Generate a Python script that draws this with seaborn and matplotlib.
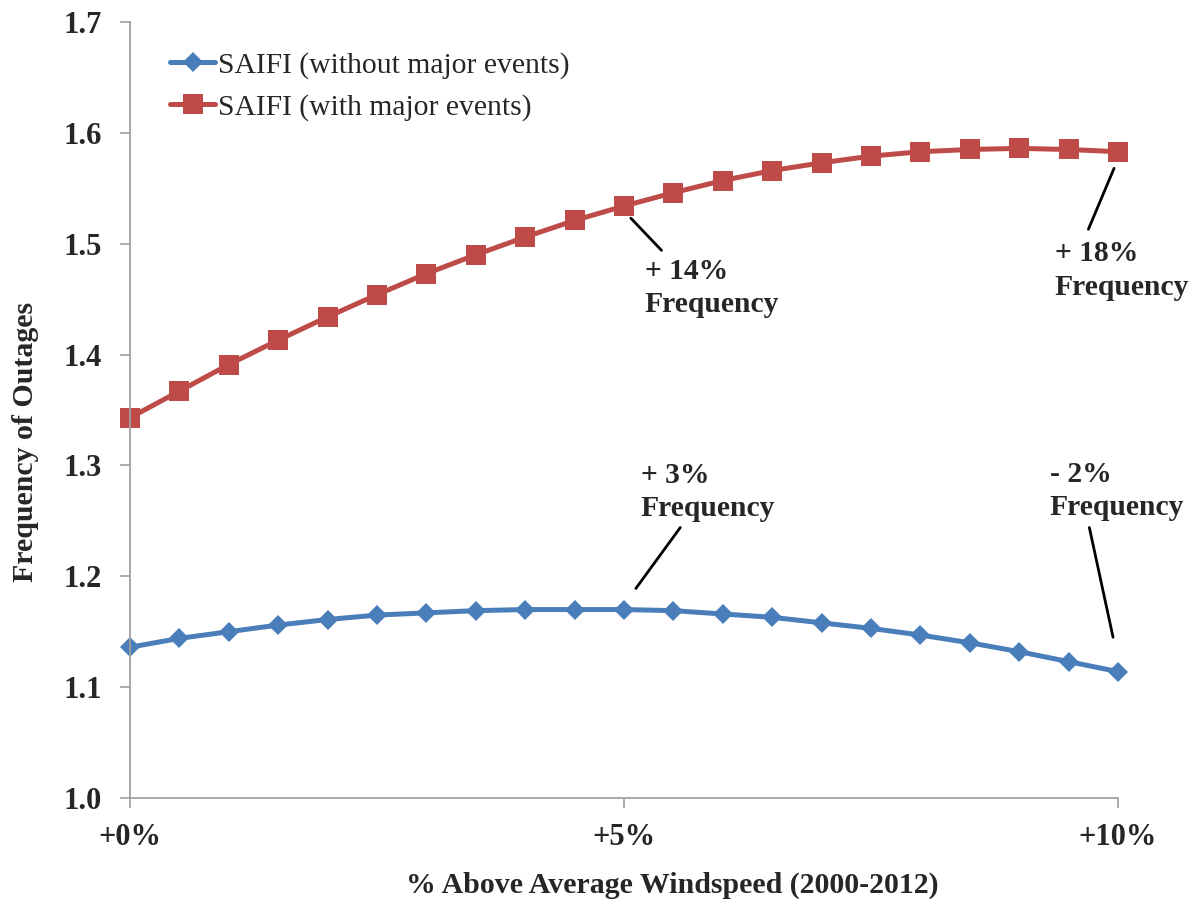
import numpy as np
import pandas as pd
import matplotlib
matplotlib.use("Agg")
import matplotlib.pyplot as plt
import seaborn as sns

# ---- data ----
windspeed_pct = [0, 0.5, 1, 1.5, 2, 2.5, 3, 3.5, 4, 4.5, 5, 5.5, 6, 6.5, 7, 7.5, 8, 8.5, 9, 9.5, 10]
saifi_without = [1.136, 1.144, 1.150, 1.156, 1.161, 1.165, 1.167, 1.169, 1.170, 1.170, 1.170,
                 1.169, 1.166, 1.163, 1.158, 1.153, 1.147, 1.140, 1.132, 1.123, 1.114]
saifi_with = [1.343, 1.367, 1.391, 1.413, 1.434, 1.454, 1.473, 1.490, 1.506, 1.521, 1.534,
              1.546, 1.557, 1.566, 1.573, 1.579, 1.583, 1.585, 1.586, 1.585, 1.583]
series_names = ["SAIFI (without major events)", "SAIFI (with major events)"]
x_ticks = [0, 5, 10]
x_tick_labels = ["+0%", "+5%", "+10%"]
y_ticks = [1.0, 1.1, 1.2, 1.3, 1.4, 1.5, 1.6, 1.7]
annotations = ["+ 14%\nFrequency", "+ 18%\nFrequency", "+ 3%\nFrequency", "- 2%\nFrequency"]

df = pd.DataFrame({
    "x": windspeed_pct * 2,
    "y": saifi_without + saifi_with,
    "series": [series_names[0]] * len(windspeed_pct) + [series_names[1]] * len(windspeed_pct),
})

sns.set_style("white")
plt.rcParams["font.family"] = ["Liberation Serif", "DejaVu Serif"]

fig = plt.figure(figsize=(11.9, 9.02), dpi=100)
ax = fig.add_axes([0.1092, 0.1153, 0.8303, 0.8603])

palette = {series_names[0]: "#4A7EBB", series_names[1]: "#BE4B48"}
markers = {series_names[0]: "D", series_names[1]: "s"}
sns.lineplot(data=df, x="x", y="y", hue="series", style="series", palette=palette,
             markers=markers, dashes=False, linewidth=3.6, markersize=11,
             markeredgewidth=0, ax=ax)
for line in ax.lines:
    line.set_clip_on(False)
    if line.get_marker() == "s":
        line.set_markersize(14)
    elif line.get_marker() == "D":
        line.set_markersize(10.5)

ax.set_xlim(0, 10)
ax.set_ylim(1.0, 1.7)
ax.set_xticks(x_ticks)
ax.set_xticklabels(x_tick_labels)
ax.set_yticks(y_ticks)
ax.set_yticklabels([f"{v:.1f}" for v in y_ticks])
for lab in ax.get_xticklabels() + ax.get_yticklabels():
    lab.set_fontweight("bold")
    lab.set_fontsize(22)
ax.tick_params(axis="both", direction="out", length=7, width=1.2, color="#A0A0A0",
               left=True, bottom=True)
ax.tick_params(axis="x", pad=11)
ax.tick_params(axis="y", pad=13)

for s in ["top", "right"]:
    ax.spines[s].set_visible(False)
for s in ["left", "bottom"]:
    ax.spines[s].set_color("#A0A0A0")
    ax.spines[s].set_linewidth(1.3)

ax.set_xlabel("% Above Average Windspeed (2000-2012)", fontsize=21.5, fontweight="bold",
              va="center")
ax.xaxis.set_label_coords(0.549, -0.113)
ax.set_ylabel("Frequency of Outages", fontsize=21.5, fontweight="bold", va="center")
ax.yaxis.set_label_coords(-0.106, 0.459)

leg = ax.legend(loc="upper left", bbox_to_anchor=(0.029, 0.977), frameon=False, fontsize=21.3,
                handlelength=1.5, handletextpad=0.1, labelspacing=0.5, borderaxespad=0)

# annotation leader lines and texts
lines_xy = [((5.07, 5.38), (1.523, 1.494)),
            ((9.96, 9.70), (1.568, 1.513)),
            ((5.57, 5.12), (1.244, 1.189)),
            ((9.71, 9.95), (1.244, 1.145))]
for xs, ys in lines_xy:
    ax.plot(xs, ys, color="black", linewidth=2)

text_pos = [(5.21, 1.487), (9.36, 1.503), (5.17, 1.303), (9.31, 1.304)]
for (tx, ty), t in zip(text_pos, annotations):
    ax.text(tx, ty, t, fontsize=21.3, fontweight="bold", ha="left", va="top",
            linespacing=1.3)

fig.savefig("out.png", dpi=100)
